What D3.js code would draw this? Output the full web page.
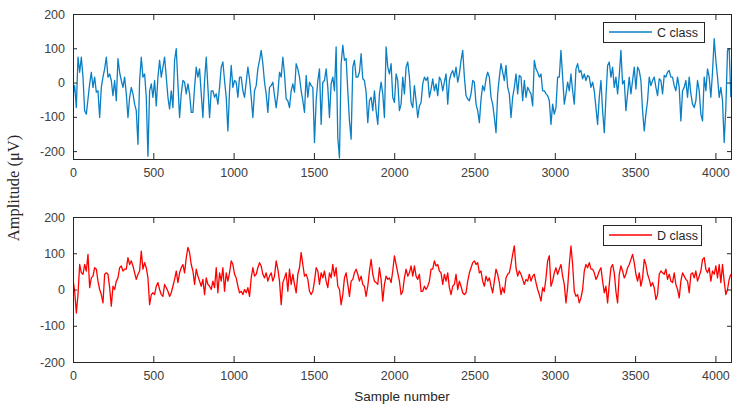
<!DOCTYPE html>
<html>
<head>
<meta charset="utf-8">
<script src="https://cdn.jsdelivr.net/npm/d3@7"></script>
<style>
  body { margin: 0; background: #fff; }
  svg { display: block; }
  .tick text { font-family: "Liberation Sans", Arial, sans-serif; font-size: 12.5px; fill: #404040; }
</style>
</head>
<body>
<div id="chart"></div>
<script>
// sample count of each record
var nSamples = 4097;
var xTicks = [0, 500, 1000, 1500, 2000, 2500, 3000, 3500, 4000];
var yTicks = [-200, -100, 0, 100, 200];

// C class, evenly spaced over the record
var cClass = [
  -38,-9,-73,74,30,74,16,-82,-92,-48,-4,30,-14,16,-28,-24,-102,-14,16,40,74,16,25,6,-38,6,-53,70,30,6,-14,16,-33,-102,-43,-14,-33,-63,-82,-180,
  6,74,16,25,-43,-215,-24,-4,-43,6,-68,16,65,16,45,74,16,-43,-77,-24,-73,65,99,-4,-102,-33,6,1,-33,-4,-33,-87,-87,-14,45,16,40,-33,-102,6,
  74,-14,-102,-24,-24,-43,-33,-63,-14,45,60,6,-43,-141,-24,50,-14,6,1,-43,16,16,-24,-43,1,45,11,-43,-102,-24,-9,40,65,94,55,1,-33,-87,-14,-9,
  1,-38,-73,-33,30,16,74,25,-48,-53,-73,-24,-4,-28,
  55,40,16,-24,-53,-87,21,-43,1,-9,-14,-175,-53,6,40,-122,1,6,40,-14,-102,-4,16,-24,104,-161,-220,55,109,65,70,-24,-112,-165,45,65,16,16,30,84,
  11,6,-28,-117,-53,-43,-82,-24,-82,-122,-33,1,-33,-102,104,45,25,55,-43,-58,25,6,-82,-63,16,-33,45,60,16,-58,-73,-9,-53,-102,-68,-58,-4,16,6,16,
  -43,-19,11,-24,-4,-38,16,6,-24,1,25,-63,6,25,35,16,45,1,25,65,94,16,-38,-48,-53,-33,6,1,-63,-82,-117,-48,-9,-24,11,30,16,-43,-63,-102,
  -146,-33,16,55,30,6,50,-14,-33,-102,-43,-14,
  25,-33,21,16,-53,6,-43,-14,-24,-33,-68,65,40,30,16,25,-24,-24,-33,-38,-53,-122,-63,-92,-73,16,16,94,16,-63,-33,1,-24,25,-24,-63,40,55,30,35,
  11,25,6,21,16,-14,1,-24,-73,-122,-43,6,-82,-146,-43,50,60,16,45,-14,16,-33,21,94,-4,6,-82,-33,16,-33,6,45,-19,45,35,6,-82,-141,-92,-53,
  16,-9,6,16,-14,-38,11,6,-33,21,16,30,35,16,16,-9,-24,16,-14,-112,-24,-14,6,-43,16,-33,-63,-73,-53,6,-24,-92,-112,16,-24,40,16,-43,30,128,
  65,16,-43,-14,-53,-175,-73,94,99,-43
];

// D class, same spacing
var dClass = [
  28,-5,-65,-14,69,46,42,69,51,97,5,32,37,60,56,23,0,-14,-37,42,46,42,5,-46,9,0,23,32,60,65,51,56,56,88,69,79,65,46,28,42,
  51,106,56,74,60,32,-42,-14,-9,-14,9,19,0,-14,-19,14,5,-5,-19,-9,9,28,51,19,46,60,69,46,88,116,102,69,51,14,56,37,23,9,28,-14,
  32,14,9,0,23,5,60,-9,46,23,60,-5,46,23,46,79,69,42,32,9,-9,-5,-14,0,-9,5,-19,32,60,37,42,60,74,65,42,32,46,23,37,46,
  23,37,79,56,23,-42,19,32,46,-5,56,14,42,14,
  -9,42,60,102,69,37,42,28,-5,-14,-5,23,60,51,14,46,32,51,23,5,46,32,69,37,60,9,0,-42,-14,32,46,14,-19,23,28,46,56,42,23,37,
  14,9,-19,9,51,83,42,23,19,14,60,28,-32,14,37,28,32,19,51,93,69,46,23,-14,-5,32,56,37,46,65,37,65,37,28,42,-5,-5,9,0,9,
  23,56,56,79,65,69,51,46,14,42,23,46,5,-14,9,14,42,0,23,9,-9,-14,-9,23,46,60,74,79,69,74,46,51,23,9,37,23,32,9,-9,23,
  56,42,19,-14,5,-9,32,42,46,69,97,120,
  60,37,51,42,28,14,28,23,42,23,37,42,19,0,-14,-32,5,-5,32,79,93,9,23,46,60,42,56,69,37,14,-37,5,69,120,69,-5,-19,-14,-37,-23,
  0,51,69,60,74,56,56,46,28,37,51,60,23,-9,9,-37,14,60,69,46,-5,-37,42,65,51,32,42,60,69,83,97,74,42,23,46,9,32,83,69,42,
  28,9,19,5,-28,-14,42,51,46,42,56,28,42,23,19,46,14,0,-23,23,46,37,28,23,-9,42,46,32,51,23,37,51,83,88,56,46,60,23,51,42,
  65,32,69,19,69,23,-14,0,28,42
];

var panels = [
  { values: cClass, name: "C class", color: "#0a7fc4", top: 14, yDomain: [-223, 200], legendW: 101 },
  { values: dClass, name: "D class", color: "#ff0000", top: 217, yDomain: [-200, 200], legendW: 98 }
];

var width = 744, height = 409;
var left = 73, plotW = 658, plotH = 145;

var svg = d3.select("#chart").append("svg")
  .attr("width", width)
  .attr("height", height);

var x = d3.scaleLinear().domain([0, nSamples]).range([0, plotW]);

// plain labels: no thousands separator, ascii minus
var plain = function(d) { return String(d); };

panels.forEach(function(p) {
  var g = svg.append("g").attr("transform", "translate(" + left + "," + p.top + ")");
  var y = d3.scaleLinear().domain(p.yDomain).range([plotH, 0]);
  var step = (nSamples - 1) / (p.values.length - 1);

  var line = d3.line()
    .x(function(d, i) { return x(i * step); })
    .y(function(d) { return y(d); });

  g.append("clipPath").attr("id", "clip" + p.top)
    .append("rect").attr("width", plotW).attr("height", plotH);

  g.append("path")
    .datum(p.values)
    .attr("clip-path", "url(#clip" + p.top + ")")
    .attr("fill", "none")
    .attr("stroke", p.color)
    .attr("stroke-width", 1.3)
    .attr("stroke-linejoin", "round")
    .attr("d", line);

  // axes, ticks pointing inward like matlab
  var xb = g.append("g").attr("transform", "translate(0," + plotH + ")")
    .call(d3.axisBottom(x).tickValues(xTicks).tickFormat(plain).tickSizeInner(-6).tickSizeOuter(0).tickPadding(9));
  var xt = g.append("g")
    .call(d3.axisTop(x).tickValues(xTicks).tickSizeInner(-6).tickSizeOuter(0).tickFormat(""));
  var yl = g.append("g")
    .call(d3.axisLeft(y).tickValues(yTicks).tickFormat(plain).tickSizeInner(-4).tickSizeOuter(0).tickPadding(8));
  var yr = g.append("g").attr("transform", "translate(" + plotW + ",0)")
    .call(d3.axisRight(y).tickValues(yTicks).tickSizeInner(-4).tickSizeOuter(0).tickFormat(""));
  [xb, xt, yl, yr].forEach(function(a) {
    a.select(".domain").remove();
    a.selectAll("line").attr("stroke", "#262626");
  });

  g.append("rect")
    .attr("width", plotW).attr("height", plotH)
    .attr("fill", "none").attr("stroke", "#262626").attr("stroke-width", 1)
    .attr("shape-rendering", "crispEdges");

  // legend box
  var lg = g.append("g").attr("transform", "translate(" + (603 - left) + ",8)");
  lg.append("rect")
    .attr("width", p.legendW).attr("height", 20)
    .attr("fill", "#fff").attr("stroke", "#262626").attr("stroke-width", 1)
    .attr("shape-rendering", "crispEdges");
  lg.append("line")
    .attr("x1", 6).attr("x2", 49).attr("y1", 10).attr("y2", 10)
    .attr("stroke", p.color).attr("stroke-width", 1.3);
  lg.append("text")
    .attr("x", 54).attr("y", 14.5)
    .attr("font-family", "Liberation Sans, Arial, sans-serif")
    .attr("font-size", 12.5)
    .attr("fill", "#262626")
    .text(p.name);
});

svg.append("text")
  .attr("x", left + plotW / 2)
  .attr("y", 401)
  .attr("text-anchor", "middle")
  .attr("font-family", "Liberation Sans, Arial, sans-serif")
  .attr("font-size", 13.5)
  .attr("fill", "#262626")
  .text("Sample number");

svg.append("text")
  .attr("transform", "translate(19,188) rotate(-90)")
  .attr("text-anchor", "middle")
  .attr("font-family", "Liberation Serif, Times New Roman, serif")
  .attr("font-size", 16.5)
  .attr("fill", "#262626")
  .text("Amplitude (\u03bcV)");
</script>
</body>
</html>
